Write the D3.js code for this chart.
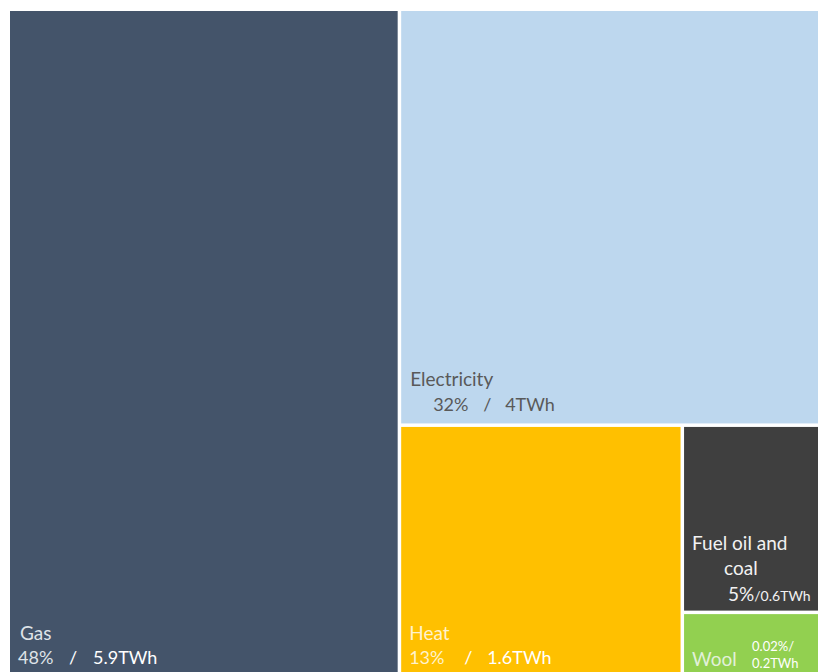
<!doctype html>
<html lang="en">
<head>
<meta charset="UTF-8" />
<title>Energy treemap</title>
<style>
  body { margin: 0; background: #fff; font-family: 'Lato', 'Open Sans', sans-serif; }
  svg { display: block; }
</style>
<script src="https://d3js.org/d3.v7.min.js"></script>
</head>
<body>
<div id="chart-container"></div>
<script>
var categories = ['Gas', 'Electricity', 'Heat', 'Fuel oil and coal', 'Wool'];
var twh = [5.9, 4, 1.6, 0.6, 0.2];
var shares = ['48%', '32%', '13%', '5%', '0.02%'];
var colors = ['#44546a', '#bdd7ee', '#ffc000', '#3f3f3f', '#92d050'];

var canvasWidth = 818;
var canvasHeight = 672;
var margin = { top: 11, left: 10 };

var svg = d3.select('#chart-container')
  .append('svg')
  .attr('width', canvasWidth)
  .attr('height', canvasHeight);

// nested: Gas | (Electricity / (Heat | (Fuel / Wool)))
function leaf(i) {
  return { name: categories[i], value: twh[i], share: shares[i], color: colors[i] };
}
var tree = {
  name: 'root',
  children: [leaf(0), {
    name: 'g1',
    children: [leaf(1), {
      name: 'g2',
      children: [leaf(2), { name: 'g3', children: [leaf(3), leaf(4)] }]
    }]
  }]
};

var root = d3.hierarchy(tree).sum(function (d) { return d.value || 0; });

d3.treemap()
  .tile(d3.treemapSliceDice)
  .size([812, 662])
  .paddingInner(3.5)
  .round(false)(root);

var g = svg.append('g')
  .attr('transform', 'translate(' + margin.left + ',' + margin.top + ')');

var leaves = root.leaves();

g.selectAll('rect')
  .data(leaves)
  .enter()
  .append('rect')
  .attr('x', function (d) { return d.x0; })
  .attr('y', function (d) { return d.y0; })
  .attr('width', function (d) { return d.x1 - d.x0; })
  .attr('height', function (d) { return d.y1 - d.y0; })
  .style('fill', function (d) { return d.data.color; });

function node(name) {
  return leaves.find(function (d) { return d.data.name === name; });
}

function addText(x, y, size, fill, txt) {
  return g.append('text')
    .attr('x', x).attr('y', y)
    .attr('font-size', size + 'px')
    .attr('fill', fill)
    .text(txt);
}

// Gas
var n = node('Gas');
addText(n.x0 + 10, 629, 19, '#dfe3e8', n.data.name);
addText(n.x0 + 8, 653, 18, '#dfe3e8', n.data.share);
addText(n.x0 + 59, 653, 18, '#ffffff', '/');
addText(n.x0 + 83, 653, 18, '#ffffff', n.data.value + 'TWh');

// Electricity
n = node('Electricity');
addText(n.x0 + 9, n.y1 - 37, 19, '#595959', n.data.name);
addText(n.x0 + 32, n.y1 - 12, 18, '#595959', n.data.share);
addText(n.x0 + 82, n.y1 - 12, 18, '#595959', '/');
addText(n.x0 + 104, n.y1 - 12, 18, '#595959', n.data.value + 'TWh');

// Heat
n = node('Heat');
addText(n.x0 + 8, 629, 19, '#fff2cc', n.data.name);
addText(n.x0 + 8, 653, 18, '#fff2cc', n.data.share);
addText(n.x0 + 63, 653, 18, '#ffffff', '/');
addText(n.x0 + 86, 653, 18, '#ffffff', n.data.value + 'TWh');

// Fuel oil and coal
n = node('Fuel oil and coal');
addText(n.x0 + 8, n.y0 + 123, 19, '#f2f2f2', 'Fuel oil and');
addText(n.x0 + 40, n.y0 + 148, 19, '#f2f2f2', 'coal');
var t = addText(n.x0 + 44, n.y0 + 174, 19, '#f2f2f2', n.data.share);
t.append('tspan').attr('font-size', '14px').text('/' + n.data.value + 'TWh');

// Wool
n = node('Wool');
addText(n.x0 + 8, 655, 19, '#e2f0d9', n.data.name);
addText(n.x0 + 68, 640, 13, '#ffffff', n.data.share + '/');
addText(n.x0 + 68, 657, 13, '#ffffff', n.data.value + 'TWh');
</script>
</body>
</html>
